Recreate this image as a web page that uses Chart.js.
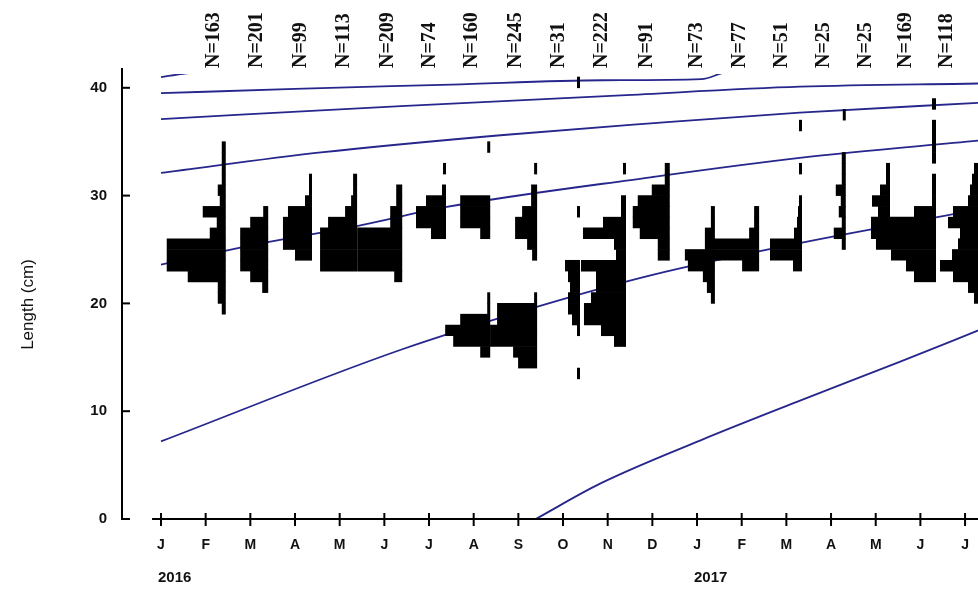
<!DOCTYPE html>
<html>
<head>
<meta charset="utf-8">
<title>Length frequency</title>
<script src="https://cdn.jsdelivr.net/npm/chart.js@4.4.1/dist/chart.umd.min.js"></script>
<style>
  html, body { margin: 0; padding: 0; background: #fff; }
</style>
</head>
<body>
<canvas id="c" width="978" height="592"></canvas>
<script>
// x = months from Jan 2016 (0) to Jul 2017 (18)
const monthLabels = ['J', 'F', 'M', 'A', 'M', 'J', 'J', 'A', 'S', 'O', 'N', 'D', 'J', 'F', 'M', 'A', 'M', 'J', 'J']
const yearLabels = ['2016', '2017']
const yearMonth = [0, 12]
const lengthTicks = [0, 10, 20, 30, 40]

// samples
const sampleN = [163, 201, 99, 113, 209, 74, 160, 245, 31, 222, 91, 73, 77, 51, 25, 25, 169, 118]
const labelMonth = [1.18, 2.15, 3.13, 4.10, 5.07, 6.02, 6.96, 7.95, 8.91, 9.87, 10.88, 12.0, 12.96, 13.90, 14.84, 15.78, 16.68, 17.60]
const sampleMonth = [1.45, 2.40, 3.38, 4.39, 5.40, 6.38, 7.37, 8.42, 9.38, 10.41, 11.39, 12.40, 13.39, 14.35, 15.33, 16.32, 17.35, 18.29]
// lowest length class (cm) of each sample, then relative frequency per 1 cm class upwards
const binStart = [19, 21, 24, 23, 22, 26, 15, 14, 13, 16, 24, 20, 23, 23, 25, 27, 22, 20]
const freqs = [
    [4, 8, 8, 38, 59, 59, 59, 16, 9, 23, 6, 8, 4, 4, 4, 4],
    [6, 18, 28, 28, 28, 28, 18, 5],
    [17, 29, 29, 29, 24, 7, 3, 3],
    [37, 37, 37, 37, 29, 12, 6, 4, 4],
    [8, 45, 45, 45, 45, 12, 12, 6, 6],
    [15, 30, 30, 20, 4, 0, 3],
    [10, 37, 45, 30, 3, 3, 0, 0, 0, 0, 0, 10, 30, 30, 30, 0, 0, 0, 0, 3],
    [19, 24, 47, 47, 40, 40, 3, 0, 0, 0, 5, 10, 22, 22, 15, 6, 6, 0, 3],
    [3, 0, 0, 0, 3, 8, 12, 12, 10, 12, 15, 0, 0, 0, 0, 3, 0, 0, 0, 0, 0, 0, 0, 0, 0, 0, 0, 3],
    [12, 25, 42, 42, 35, 30, 30, 45, 10, 12, 43, 23, 5, 5, 0, 0, 3],
    [12, 12, 30, 37, 37, 32, 18, 5, 5],
    [4, 8, 12, 27, 30, 10, 10, 4, 4],
    [17, 45, 45, 10, 5, 5],
    [9, 32, 32, 8, 5, 4, 3, 0, 0, 3, 0, 0, 0, 3],
    [4, 12, 4, 7, 5, 10, 4, 4, 4, 0, 0, 0, 3],
    [8, 12, 18, 10, 4, 4],
    [22, 30, 45, 60, 65, 65, 22, 4, 4, 4, 0, 4, 4, 4, 4, 0, 4],
    [4, 10, 25, 38, 26, 20, 18, 30, 25, 10, 8, 6, 4]
]
const monthsPerFreq = 0.0224

// growth curves (month, length cm)
const curveA_t = [0, 0.5, 1.5]
const curveA_L = [41.0, 41.3, 41.7]
const curveB_t = [0, 3, 6.5, 9.9, 12.1, 12.6, 13.5]
const curveB_L = [39.5, 39.9, 40.3, 40.7, 40.8, 41.4, 41.8]
const curveC_t = [0, 5.37, 10.3, 14.3, 18.3]
const curveC_L = [37.1, 38.3, 39.3, 40.1, 40.4]
const curveD_t = [0, 3.58, 7.6, 10.96, 14.3, 18.3]
const curveD_L = [32.1, 34.0, 35.6, 36.7, 37.7, 38.6]
const curveE_t = [0, 2.42, 4.41, 6.33, 10.96, 14.3, 18.3]
const curveE_L = [23.6, 25.7, 27.2, 28.9, 31.7, 33.5, 35.1]
const curveF_t = [0, 5.37, 8.43, 10.96, 14.3, 18.3]
const curveF_L = [7.2, 15.7, 19.7, 22.6, 25.6, 28.7]
const curveG_t = [8.39, 9.84, 12.08, 14.32, 16.55, 18.3]
const curveG_L = [0, 3.3, 7.3, 11.0, 14.6, 17.5]

//histogram bars, drawn to the left of each sample date
let barData = []
for (let i = 0; i < sampleMonth.length; i++) {
    for (let j = 0; j < freqs[i].length; j++) {
        if (freqs[i][j] === 0) continue
        barData.push({
            y: binStart[i] + j + 0.5,
            x: [sampleMonth[i] - freqs[i][j] * monthsPerFreq, sampleMonth[i]]
        })
    }
}

function curve(t, L) {
    return t.map((v, i) => ({ x: v, y: L[i] }))
}

const curveColor = 'rgb(38, 38, 140)'
function curveSet(t, L) {
    return {
        type: 'line',
        data: curve(t, L),
        borderColor: curveColor,
        borderWidth: 1.8,
        pointRadius: 0,
        cubicInterpolationMode: 'monotone',
        fill: false,
        order: 2
    }
}

//axes, tick labels, N labels
const axesPlugin = {
    id: 'axesPlugin',
    afterDraw(chart) {
        const ctx = chart.ctx
        const xs = chart.scales.x
        const ys = chart.scales.y
        const area = chart.chartArea
        const y0 = ys.getPixelForValue(0)
        ctx.save()
        ctx.strokeStyle = '#000'
        ctx.fillStyle = '#111'
        ctx.lineWidth = 2

        // y axis
        ctx.beginPath()
        ctx.moveTo(area.left, area.top - 6)
        ctx.lineTo(area.left, y0)
        ctx.stroke()
        ctx.font = 'bold 15px "Liberation Sans", Arial, sans-serif'
        ctx.textAlign = 'right'
        ctx.textBaseline = 'middle'
        for (const v of lengthTicks) {
            const py = ys.getPixelForValue(v)
            ctx.beginPath()
            ctx.moveTo(area.left - 1, py)
            ctx.lineTo(area.left + 8, py)
            ctx.stroke()
            ctx.fillText(String(v), area.left - 15, py)
        }

        // x axis
        ctx.beginPath()
        ctx.moveTo(xs.getPixelForValue(-0.2), y0)
        ctx.lineTo(area.right, y0)
        ctx.stroke()
        ctx.font = 'bold 14px "Liberation Sans", Arial, sans-serif'
        ctx.textAlign = 'center'
        for (let i = 0; i < monthLabels.length; i++) {
            const px = xs.getPixelForValue(i)
            ctx.beginPath()
            ctx.moveTo(px, y0 - 6)
            ctx.lineTo(px, y0 + 7)
            ctx.stroke()
            ctx.fillText(monthLabels[i], px, y0 + 26)
        }
        ctx.font = 'bold 15px "Liberation Sans", Arial, sans-serif'
        ctx.textAlign = 'left'
        for (let i = 0; i < yearLabels.length; i++) {
            ctx.fillText(yearLabels[i], xs.getPixelForValue(yearMonth[i]) - 3, y0 + 59)
        }

        // y title
        ctx.save()
        ctx.translate(28, (area.top + y0) / 2 + 8)
        ctx.rotate(-Math.PI / 2)
        ctx.font = '17px "Liberation Sans", Arial, sans-serif'
        ctx.textAlign = 'center'
        ctx.fillText('Length (cm)', 0, 0)
        ctx.restore()

        // N labels
        ctx.font = 'bold 20px "Liberation Serif", "Times New Roman", serif'
        for (let i = 0; i < sampleN.length; i++) {
            ctx.save()
            ctx.translate(xs.getPixelForValue(labelMonth[i]), 68)
            ctx.rotate(-Math.PI / 2)
            ctx.textAlign = 'left'
            ctx.textBaseline = 'middle'
            ctx.fillText('N=' + sampleN[i], 0, 0)
            ctx.restore()
        }
        ctx.restore()
    }
}

const config = {
    type: 'line',
    data: {
        datasets: [
            {
                type: 'bar',
                indexAxis: 'y',
                data: barData,
                backgroundColor: '#000',
                borderWidth: 0,
                barPercentage: 1.06,
                categoryPercentage: 1,
                order: 1
            },
            curveSet(curveA_t, curveA_L),
            curveSet(curveB_t, curveB_L),
            curveSet(curveC_t, curveC_L),
            curveSet(curveD_t, curveD_L),
            curveSet(curveE_t, curveE_L),
            curveSet(curveF_t, curveF_L),
            curveSet(curveG_t, curveG_L)
        ]
    },
    options: {
        responsive: false,
        animation: false,
        layout: {
            padding: { left: 122, right: 0, top: 74, bottom: 73 }
        },
        plugins: {
            legend: { display: false },
            tooltip: { enabled: false }
        },
        scales: {
            x: { type: 'linear', min: -0.873, max: 18.29, display: false, offset: false },
            y: { type: 'linear', min: 0, max: 41.28, display: false, offset: false, grid: { offset: false }, ticks: { stepSize: 10 } }
        }
    },
    plugins: [axesPlugin]
}

new Chart(document.getElementById('c'), config)
</script>
</body>
</html>
